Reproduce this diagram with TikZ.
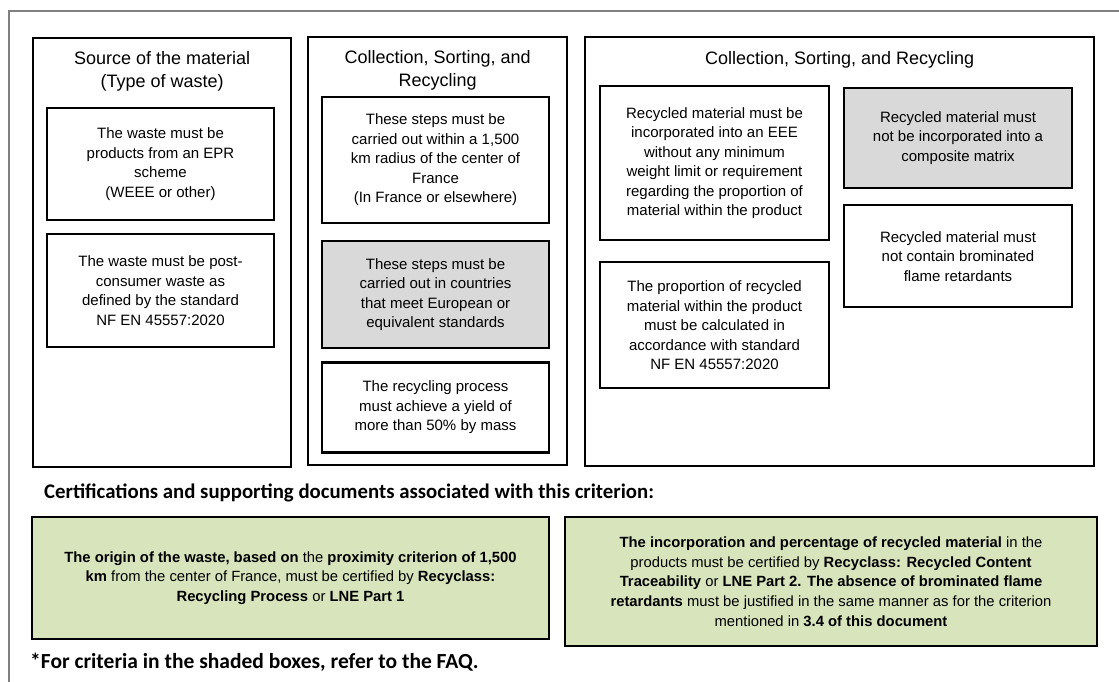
\documentclass[tikz,border=0pt]{standalone}
\usepackage{fontspec}
\setmainfont{Liberation Sans}
\newfontfamily\notafont{Carlito}
\usetikzlibrary{positioning}
\definecolor{colorMarco}{RGB}{128,128,128}
\definecolor{colorSombra}{RGB}{217,217,217}
\definecolor{colorCert}{RGB}{216,228,188}

\begin{document}
\begin{tikzpicture}[
	x=1pt, y=-1pt,
	font=\fontsize{15}{19.5}\selectfont,
	columna/.style={rectangle, draw=black, line width=2.4pt, anchor=north west, inner sep=0pt},
	titulo/.style={align=center, inner sep=0pt, font=\fontsize{18}{23}\selectfont},
	criterio/.style={rectangle, draw=black, line width=2.3pt, fill=white, align=center, inner sep=2pt},
	sombreado/.style={criterio, fill=colorSombra},
	cert/.style={criterio, fill=colorCert, line width=2.4pt, font=\fontsize{14.8}{19.7}\selectfont},
	nota/.style={anchor=west, inner sep=0pt, font=\notafont\bfseries},
	]
\useasboundingbox (0,0) rectangle (1119,682);

% Marco exterior
\draw[colorMarco, line width=1.5pt] (1119,11) -- (9,11) -- (9,682);

% Origen del material
\node[columna, minimum width=258pt, minimum height=429pt] (origen) at (32,37) {};
\node[titulo] (tOrigen) at ([yshift=-34.5pt]origen.north) {Source of the material\\(Type of waste)};
\node[criterio, minimum width=227pt, minimum height=112pt] (a1) at (160.5,164) {The waste must be\\products from an EPR\\scheme\\(WEEE or other)};
\node[criterio, minimum width=227pt, minimum height=113pt, below=12pt of a1] (a2) {The waste must be post-\\consumer waste as\\defined by the standard\\NF EN 45557:2020};

% Recogida y reciclaje
\node[columna, minimum width=259pt, minimum height=428pt] (recogida) at (307,36) {};
\node[titulo] (tRecogida) at ([yshift=-34.5pt]recogida.north) {Collection, Sorting, and\\Recycling};
\node[criterio, minimum width=227pt, minimum height=126pt] (b1) at (435.5,160) {These steps must be\\carried out within a 1,500\\km radius of the center of\\France\\(In France or elsewhere)};
\node[sombreado, minimum width=227pt, minimum height=107pt, below=16pt of b1] (b2) {These steps must be\\carried out in countries\\that meet European or\\equivalent standards};
\node[criterio, minimum width=227pt, minimum height=90pt, below=12pt of b2] (b3) {The recycling process\\must achieve a yield of\\more than 50\% by mass};

% Incorporacion en el producto
\node[columna, minimum width=509pt, minimum height=429pt] (producto) at (584,36) {};
\node[titulo] (tProducto) at ([yshift=-24pt]producto.north) {Collection, Sorting, and Recycling};
\node[criterio, minimum width=229pt, minimum height=154pt] (c1) at (714.5,163) {Recycled material must be\\incorporated into an EEE\\without any minimum\\weight limit or requirement\\regarding the proportion of\\material within the product};
\node[criterio, minimum width=229pt, minimum height=126pt, below=20pt of c1] (c4) {The proportion of recycled\\material within the product\\must be calculated in\\accordance with standard\\NF EN 45557:2020};
\node[sombreado, minimum width=228pt, minimum height=100pt] (c2) at (958,138) {Recycled material must\\not be incorporated into a\\composite matrix};
\node[criterio, minimum width=228pt, minimum height=102pt, below=15pt of c2] (c3) {Recycled material must\\not contain brominated\\flame retardants};

% Certificaciones
\node[nota, font=\notafont\bfseries\fontsize{20.8}{24}\selectfont] (encabezado) at (44,493) {Certifications and supporting documents associated with this criterion:};
\node[cert, minimum width=517pt, minimum height=122pt] (g1) at (290.5,578) {\textbf{The origin of the waste, based on} the \textbf{proximity criterion of 1,500}\\\textbf{km} from the center of France, must be certified by \textbf{Recyclass:}\\\textbf{Recycling Process} or \textbf{LNE Part 1}};
\node[cert, minimum width=532pt, minimum height=129pt] (g2) at (831,581.5) {\textbf{The incorporation and percentage of recycled material} in the\\products must be certified by \textbf{Recyclass: Recycled Content}\\\textbf{Traceability} or \textbf{LNE Part 2. The absence of brominated flame}\\\textbf{retardants} must be justified in the same manner as for the criterion\\mentioned in \textbf{3.4 of this document}};
\node[nota, font=\notafont\bfseries\fontsize{21.5}{25}\selectfont] (pie) at (30,662) {*For criteria in the shaded boxes, refer to the FAQ.};

\end{tikzpicture}
\end{document}
